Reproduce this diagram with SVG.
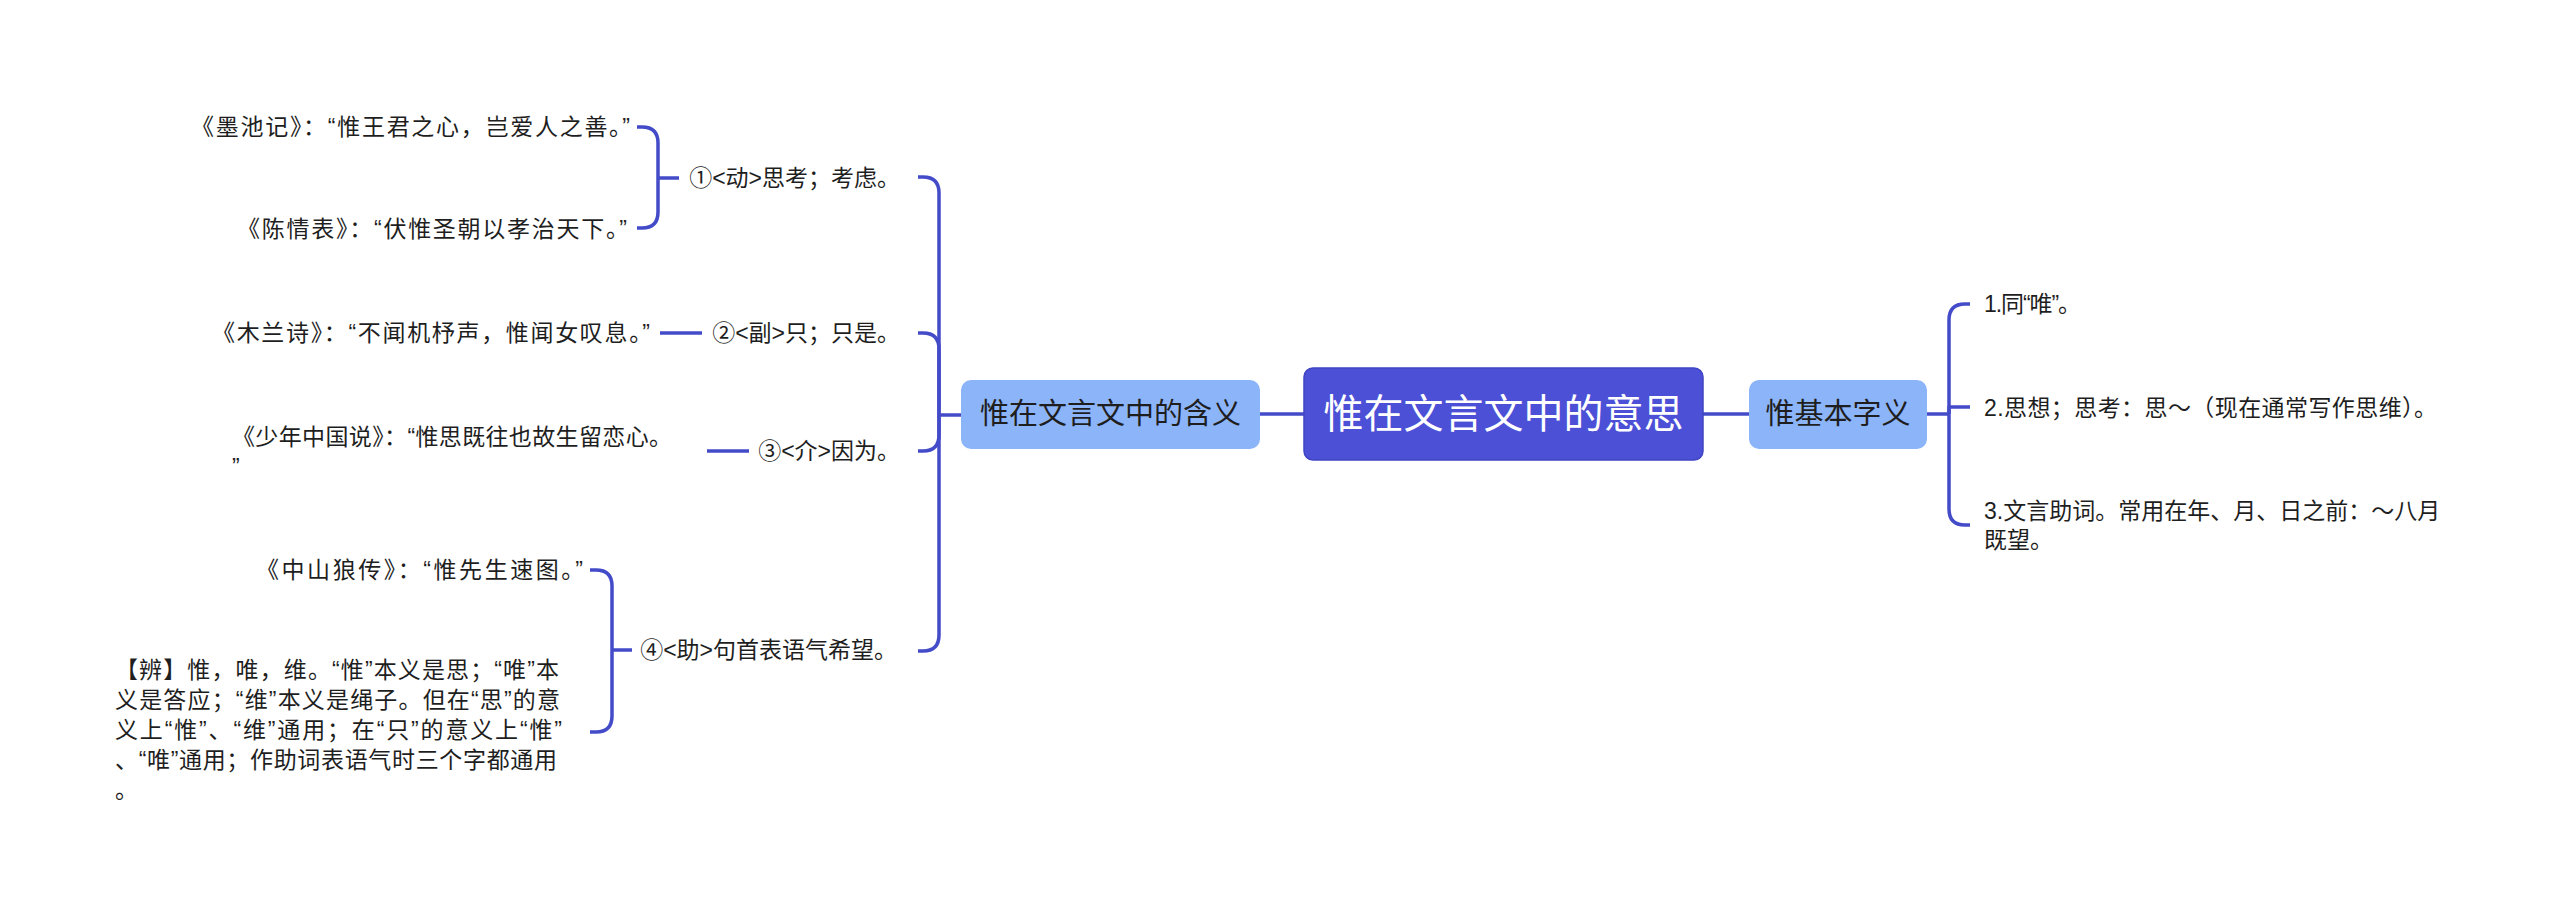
<svg xmlns="http://www.w3.org/2000/svg" width="2560" height="919" viewBox="0 0 2560 919">
<style>
text{font-family:"Liberation Sans","Noto Sans CJK SC",sans-serif;fill:#1e1e1e;dominant-baseline:central}
.t{font-size:23px}
.e{text-anchor:end}
.c{text-anchor:middle}
.sub{font-size:29px}
.root{font-size:40px;fill:#ffffff}
.ln{fill:none;stroke:#434bc9;stroke-width:3.5;stroke-linecap:butt;stroke-linejoin:round}
.n1{fill:#8cb4f9}
.n0{fill:#4b50d6;stroke:#3f44c2;stroke-width:1.5}
</style>
<rect width="2560" height="919" fill="#ffffff"/>
<g id="connectors" class="ln">
<path d="M1260,414 H1304"/>
<path d="M1703,414 H1749"/>
<path d="M961,415 H939"/>
<path d="M918,177 H923 Q939,177 939,193 V415"/>
<path d="M918,333 H923 Q939,333 939,349 V415"/>
<path d="M918,451 H923 Q939,451 939,435 V415"/>
<path d="M918,651 H923 Q939,651 939,635 V415"/>
<path d="M679,178 H658"/>
<path d="M637,127 H642 Q658,127 658,143 V178"/>
<path d="M637,228 H642 Q658,228 658,212 V178"/>
<path d="M660,333 H702"/>
<path d="M707,451 H749"/>
<path d="M632,650 H612"/>
<path d="M590,570 H596 Q612,570 612,586 V650"/>
<path d="M590,732 H596 Q612,732 612,716 V650"/>
<path d="M1927,414 H1949"/>
<path d="M1970,304 H1965 Q1949,304 1949,320 V414"/>
<path d="M1970,407 H1949 V414"/>
<path d="M1970,525 H1965 Q1949,525 1949,509 V414"/>
</g>
<g id="root">
<rect class="n0" x="1304" y="368" width="399" height="92" rx="9"/>
<text class="root c" x="1503.5" y="414">惟在文言文中的意思</text>
</g>
<g id="left-main">
<rect class="n1" x="961" y="380" width="299" height="69" rx="10"/>
<text class="sub c" x="1110.5" y="414">惟在文言文中的含义</text>
</g>
<g id="right-main">
<rect class="n1" x="1749" y="380" width="178" height="69" rx="10"/>
<text class="sub c" x="1838" y="414">惟基本字义</text>
</g>
<g id="m1"><text class="t e" x="900" y="178">①&lt;动&gt;思考；考虑。</text></g>
<g id="m2"><text class="t e" x="900" y="333">②&lt;副&gt;只；只是。</text></g>
<g id="m3"><text class="t e" x="900" y="451">③&lt;介&gt;因为。</text></g>
<g id="m4"><text class="t e" x="897" y="650">④&lt;助&gt;句首表语气希望。</text></g>
<g id="q1"><text class="t" x="191" y="127" textLength="439" lengthAdjust="spacing">《墨池记》：“惟王君之心，岂爱人之善。”</text></g>
<g id="q2"><text class="t" x="237" y="229" textLength="390" lengthAdjust="spacing">《陈情表》：“伏惟圣朝以孝治天下。”</text></g>
<g id="q3"><text class="t" x="212" y="333" textLength="438" lengthAdjust="spacing">《木兰诗》：“不闻机杼声，惟闻女叹息。”</text></g>
<g id="q4"><text class="t" x="232" y="437" textLength="440" lengthAdjust="spacing">《少年中国说》：“惟思既往也故生留恋心。</text><text class="t" x="232" y="467">”</text></g>
<g id="q5"><text class="t" x="256" y="570" textLength="327" lengthAdjust="spacing">《中山狼传》：“惟先生速图。”</text></g>
<g id="q6">
<text class="t" x="115" y="670" textLength="444" lengthAdjust="spacing">【辨】惟，唯，维。“惟”本义是思；“唯”本</text>
<text class="t" x="115" y="700" textLength="445" lengthAdjust="spacing">义是答应；“维”本义是绳子。但在“思”的意</text>
<text class="t" x="115" y="730" textLength="447" lengthAdjust="spacing">义上“惟”、“维”通用；在“只”的意义上“惟”</text>
<text class="t" x="115" y="760" textLength="442" lengthAdjust="spacing">、“唯”通用；作助词表语气时三个字都通用</text>
<text class="t" x="115" y="790">。</text>
</g>
<g id="r1"><text class="t" x="1984" y="304" textLength="97" lengthAdjust="spacing">1.同“唯”。</text></g>
<g id="r2"><text class="t" x="1984" y="408" textLength="453" lengthAdjust="spacing">2.思想；思考：思～（现在通常写作思维）。</text></g>
<g id="r3"><text class="t" x="1984" y="511">3.文言助词。常用在年、月、日之前：～八月</text><text class="t" x="1984" y="540">既望。</text></g>
</svg>
